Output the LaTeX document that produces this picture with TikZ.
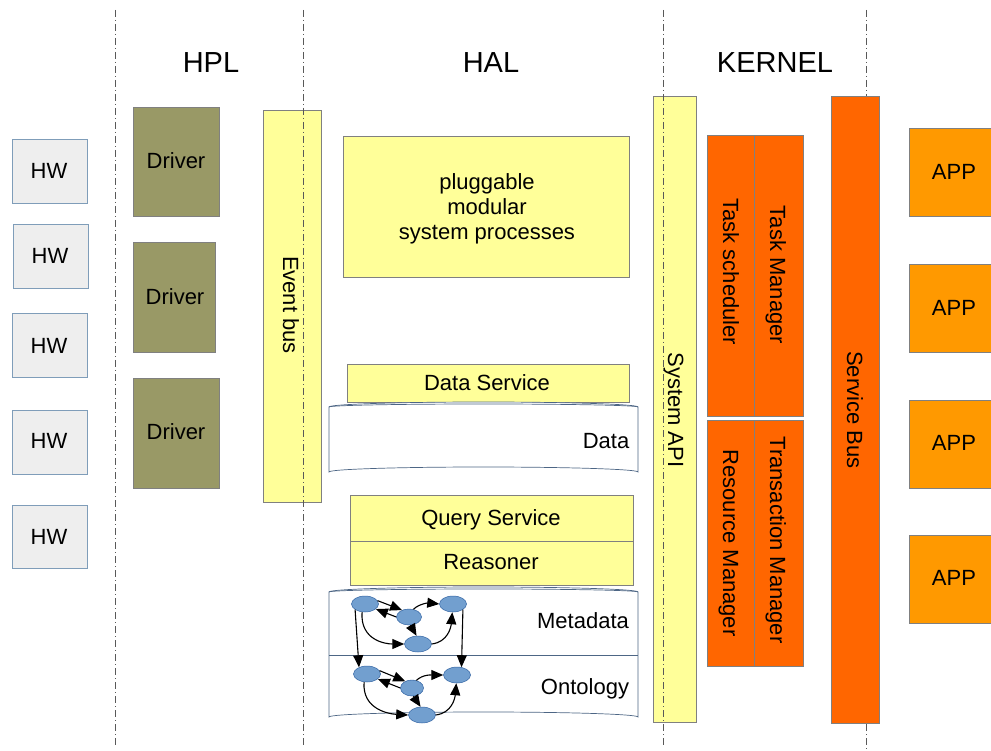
\documentclass[tikz,border=0pt]{standalone}
\usepackage{fontspec}
\setmainfont{Liberation Sans}
\usetikzlibrary{fit,shapes.geometric,arrows.meta}
\definecolor{hwfill}{HTML}{EEEEEE}
\definecolor{hwline}{HTML}{7F9DB9}
\definecolor{olive}{HTML}{999966}
\definecolor{ylw}{HTML}{FFFF99}
\definecolor{dorange}{HTML}{FF6600}
\definecolor{lorange}{HTML}{FF9900}
\definecolor{boxline}{HTML}{808080}
\definecolor{cylline}{HTML}{4D6685}
\definecolor{gnode}{HTML}{729FCF}
\definecolor{gnodeline}{HTML}{3465A4}
\begin{document}
\begin{tikzpicture}[x=1pt,y=-1pt,
  box/.style={fit={#1},inner sep=0pt,draw=boxline,line width=0.8pt},
  hw/.style={draw=hwline,fill=hwfill,line width=0.8pt},
  drv/.style={fill=olive},
  yb/.style={fill=ylw},
  ob/.style={fill=dorange},
  ab/.style={fill=lorange},
  lbl/.style={font=\fontsize{22}{25}\selectfont,inner sep=0pt,text height=15.75pt,text depth=0pt},
  ttl/.style={font=\fontsize{29}{30}\selectfont,inner sep=0pt,text height=20.8pt,text depth=0pt},
  sep/.style={draw=black!65,line width=0.7pt,dash pattern=on 7pt off 3pt on 1pt off 3pt},
  gn/.style={ellipse,fill=gnode,draw=gnodeline,line width=0.5pt,minimum width=27pt,minimum height=16pt,inner sep=0pt},
  ge/.style={-{Triangle[length=12pt,width=10pt]},line width=1.1pt}
]
\useasboundingbox (0,0) rectangle (991,751);

% titles
\node[ttl] (thpl) at (211,62) {HPL};
\node[ttl] (thal) at (491,62) {HAL};
\node[ttl] (tker) at (775,62) {KERNEL};

% HW
\node[box={(12,139) (87,203)},hw] (hw1) {};
\node[lbl] at (49,171) {HW};
\node[box={(13,224) (88,288)},hw] (hw2) {};
\node[lbl] at (50,256) {HW};
\node[box={(12,313) (87,377)},hw] (hw3) {};
\node[lbl] at (49,346) {HW};
\node[box={(12,410) (87,474)},hw] (hw4) {};
\node[lbl] at (49,441) {HW};
\node[box={(12,505) (87,568)},hw] (hw5) {};
\node[lbl] at (49,537) {HW};

% Drivers
\node[box={(133,107) (219,216)},drv] (d1) {};
\node[lbl] at (176,161) {Driver};
\node[box={(133,242) (215,352)},drv] (d2) {};
\node[lbl] at (175,297) {Driver};
\node[box={(133,378) (219,488)},drv] (d3) {};
\node[lbl] at (176,432) {Driver};

% Event bus
\node[box={(263,110) (321,502)},yb] (ebus) {};
\node[lbl,rotate=-90] (ebust) at (291,305) {Event bus};

% HAL
\node[box={(343,136) (629,277)},yb] (plug) {};
\node[lbl] at (487,182) {pluggable};
\node[lbl] at (487,207) {modular};
\node[lbl] (plugt) at (487,232) {system processes};
\node[box={(347,364) (629,402)},yb] (dserv) {};
\node[lbl] at (487,383) {Data Service};

% Data cylinder
\path[fill=white,draw=cylline,line width=0.7pt] (329,407) -- (329,472) arc[start angle=180,end angle=360,x radius=154.5,y radius=5] -- (638,407) arc[start angle=0,end angle=-180,x radius=154.5,y radius=5] -- cycle;
\draw[cylline,line width=0.7pt] (329,407) arc[start angle=180,end angle=360,x radius=154.5,y radius=3];
\node[lbl] (datat) at (606,441) {Data};

\node[box={(350,495) (633,541)},yb] (qserv) {};
\node[lbl] at (491,518) {Query Service};
\node[box={(350,541) (633,585)},yb] (reas) {};
\node[lbl] at (491,562) {Reasoner};

% Metadata / Ontology cylinder
\path[fill=white,draw=cylline,line width=0.7pt] (329,592) -- (329,717) arc[start angle=180,end angle=360,x radius=154.5,y radius=5] -- (638,592) arc[start angle=0,end angle=-180,x radius=154.5,y radius=5] -- cycle;
\draw[cylline,line width=0.7pt] (329,592) arc[start angle=180,end angle=360,x radius=154.5,y radius=3];
\draw[cylline,line width=0.7pt] (329,655) -- (638,655);
\node[lbl] (metat) at (583,621) {Metadata};
\node[lbl] (ontt) at (585,687) {Ontology};

% graphs
\node[gn] (ma) at (365,604) {};
\node[gn,minimum width=25pt] (mb) at (409,617) {};
\node[gn] (mc) at (453,604) {};
\node[gn] (md) at (418,644) {};
\node[gn] (oa) at (367,674) {};
\node[gn,minimum width=23pt] (ob) at (412,688) {};
\node[gn] (oc) at (457,675) {};
\node[gn] (od) at (422,715) {};

\draw[ge] (ma.15) -- (mb.135);
\draw[ge] (mb.west) -- (ma.-25);
\draw[ge] (mb.60) .. controls (420,603) and (430,603) .. (mc.west);
\draw[ge] (mb.-80) -- (md.100);
\draw[ge] (ma.-110) .. controls (360,640) and (385,644) .. (md.west);
\draw[ge] (md.east) .. controls (448,642) and (451,627) .. (mc.-95);
\draw[ge] (ma.-150) -- (oa.140);
\draw[ge] (mc.-30) -- (oc.60);

\draw[ge] (oa.15) -- (ob.135);
\draw[ge] (ob.west) -- (oa.-25);
\draw[ge] (ob.60) .. controls (423,674) and (433,675) .. (oc.west);
\draw[ge] (ob.-80) -- (od.100);
\draw[ge] (oa.-110) .. controls (362,710) and (390,714) .. (od.west);
\draw[ge] (od.east) .. controls (452,713) and (455,698) .. (oc.-95);

% System API
\node[box={(653,96) (696,722)},yb] (sapi) {};
\node[lbl,rotate=-90] (sapit) at (676,410) {System API};

% separators
\coordinate (s1t) at (115,10); \coordinate (s1b) at (115,745);
\coordinate (s2t) at (303,10); \coordinate (s2b) at (303,745);
\coordinate (s3t) at (663,10); \coordinate (s3b) at (663,745);
\coordinate (s4t) at (866,10); \coordinate (s4b) at (866,750);
\draw[sep] (s1t) -- (s1b);
\draw[sep] (s2t) -- (s2b);
\draw[sep] (s3t) -- (s3b);
\draw[sep] (s4t) -- (s4b);

% Kernel
\node[box={(707,135) (754,416)},ob] (tsch) {};
\node[lbl,rotate=-90] at (731,272) {Task scheduler};
\node[box={(754,135) (803,416)},ob] (tman) {};
\node[lbl,rotate=-90] at (778,275) {Task Manager};
\node[box={(707,420) (754,666)},ob] (rman) {};
\node[lbl,rotate=-90] at (731,543) {Resource Manager};
\node[box={(754,420) (803,666)},ob] (trman) {};
\node[lbl,rotate=-90] at (778,540) {Transaction Manager};

\node[box={(831,96) (879,723)},ob] (sbus) {};
\node[lbl,rotate=-90] (sbust) at (855,410) {Service Bus};

% APPs
\node[box={(909,128) (1000,216)},ab] (app1) {};
\node[lbl] at (954,172) {APP};
\node[box={(909,264) (1000,352)},ab] (app2) {};
\node[lbl] at (954,308) {APP};
\node[box={(909,400) (1000,488)},ab] (app3) {};
\node[lbl] at (954,443) {APP};
\node[box={(909,535) (1000,623)},ab] (app4) {};
\node[lbl] at (954,578) {APP};
\end{tikzpicture}
\end{document}
